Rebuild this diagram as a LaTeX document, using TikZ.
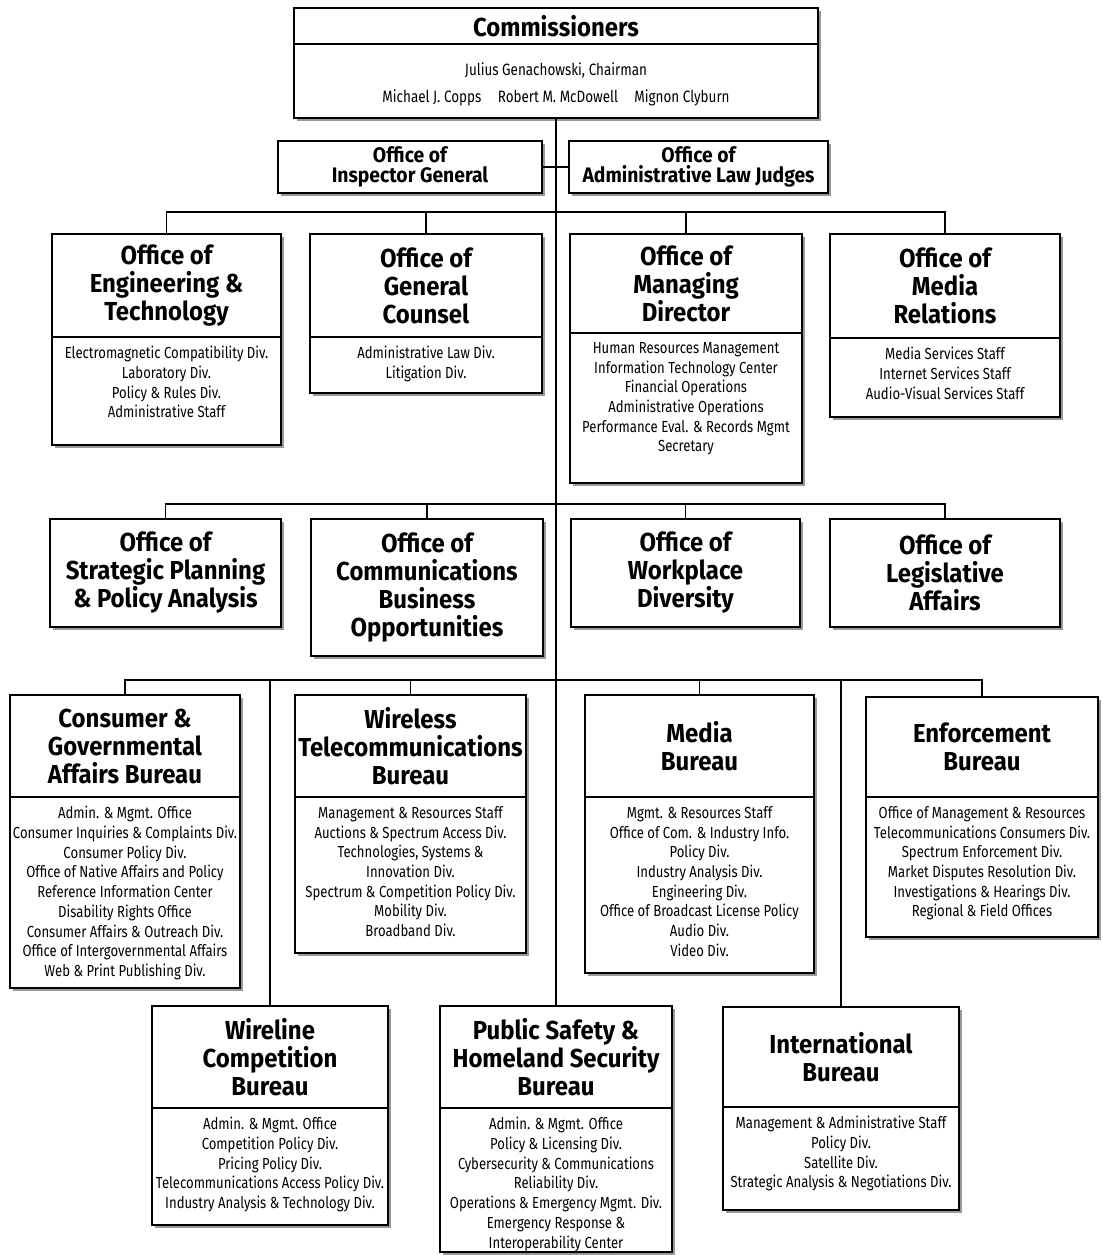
\documentclass[tikz,border=0pt]{standalone}
\usepackage{fontspec}
\setmainfont{Fira Sans}[FakeStretch=0.82]
\newfontfamily\ttlfont{Fira Sans}[FakeStretch=0.92]
\usetikzlibrary{shadows}

\begin{document}
\begin{tikzpicture}[x=0.5pt,y=-0.5pt,
  box/.style={draw,line width=1pt,fill=white,inner sep=0pt,
    drop shadow={shadow xshift=1.6pt,shadow yshift=-1.6pt,fill=black!40,opacity=1}},
  ttl/.style={font=\ttlfont\fontsize{13}{14}\selectfont\bfseries,align=center,inner sep=0pt},
  smallttl/.style={font=\ttlfont\fontsize{10.5}{10}\selectfont\bfseries,align=center,inner sep=0pt},
  itm/.style={font=\fontsize{8}{9.85}\selectfont,align=center,inner sep=0pt,anchor=north},
  divline/.style={line width=0.8pt},
  link/.style={line width=0.75pt}]
  \useasboundingbox (0,0) rectangle (1103,1255);
  % ---------------- commissioners ----------------
  \node[box,minimum width=262pt,minimum height=55pt] (comm) at (556,63) {};
  \draw[divline] (294,44) -- (818,44);
  \node[ttl] (commttl) at (556,26) {Commissioners};
  \node[itm,anchor=center,font=\fontsize{8.2}{13.5}\selectfont] (commnames) at (556,84)
    {Julius Genachowski, Chairman\\Michael J. Copps\quad Robert M. McDowell\quad Mignon Clyburn};
  \node[box,smallttl,minimum width=132pt,minimum height=26pt] (ig) at (410,167) {Office of\\Inspector General};
  \node[box,smallttl,minimum width=129.5pt,minimum height=26pt] (alj) at (698.5,167) {Office of\\Administrative Law Judges};
  % ---------------- offices and bureaus with divisions ----------------
  \foreach \nm/\xa/\ya/\xb/\yb/\yd/\ttl/\itm in {
    oet/52/234/281/445/337/{Office of\\Engineering \&\\Technology}/{Electromagnetic Compatibility Div.\\Laboratory Div.\\Policy \& Rules Div.\\Administrative Staff},
    ogc/310/234/542/393/337/{Office of\\General\\Counsel}/{Administrative Law Div.\\Litigation Div.},
    omd/570/234/802/483/333/{Office of\\Managing\\Director}/{Human Resources Management\\Information Technology Center\\Financial Operations\\Administrative Operations\\Performance Eval. \& Records Mgmt\\Secretary},
    omr/830/234/1060/417/338/{Office of\\Media\\Relations}/{Media Services Staff\\Internet Services Staff\\Audio-Visual Services Staff},
    cgb/10/695/240/988/797/{Consumer \&\\Governmental\\Affairs Bureau}/{Admin. \& Mgmt. Office\\Consumer Inquiries \& Complaints Div.\\Consumer Policy Div.\\Office of Native Affairs and Policy\\Reference Information Center\\Disability Rights Office\\Consumer Affairs \& Outreach Div.\\Office of Intergovernmental Affairs\\Web \& Print Publishing Div.},
    wtb/295/695/526/953/797/{Wireless\\Telecommunications\\Bureau}/{Management \& Resources Staff\\Auctions \& Spectrum Access Div.\\Technologies, Systems \&\\Innovation Div.\\Spectrum \& Competition Policy Div.\\Mobility Div.\\Broadband Div.},
    mb/585/695/814/973/797/{Media\\Bureau}/{Mgmt. \& Resources Staff\\Office of Com. \& Industry Info.\\Policy Div.\\Industry Analysis Div.\\Engineering Div.\\Office of Broadcast License Policy\\Audio Div.\\Video Div.},
    eb/866/697/1098/937/797/{Enforcement\\Bureau}/{Office of Management \& Resources\\Telecommunications Consumers Div.\\Spectrum Enforcement Div.\\Market Disputes Resolution Div.\\Investigations \& Hearings Div.\\Regional \& Field Offices},
    wcb/152/1006/388/1225/1108/{Wireline\\Competition\\Bureau}/{Admin. \& Mgmt. Office\\Competition Policy Div.\\Pricing Policy Div.\\Telecommunications Access Policy Div.\\Industry Analysis \& Technology Div.},
    pshs/440/1006/672/1252/1108/{Public Safety \&\\Homeland Security\\Bureau}/{Admin. \& Mgmt. Office\\Policy \& Licensing Div.\\Cybersecurity \& Communications\\Reliability Div.\\Operations \& Emergency Mgmt. Div.\\Emergency Response \&\\Interoperability Center},
    ib/723/1007/959/1210/1107/{International\\Bureau}/{Management \& Administrative Staff\\Policy Div.\\Satellite Div.\\Strategic Analysis \& Negotiations Div.}}{
    \pgfmathsetmacro\bw{(\xb-\xa)/2}
    \pgfmathsetmacro\bh{(\yb-\ya)/2}
    \node[box,minimum width=\bw pt,minimum height=\bh pt] (\nm) at ({(\xa+\xb)/2},{(\ya+\yb)/2}) {};
    \draw[divline] (\xa,\yd) -- (\xb,\yd);
    \node[ttl] (\nm-t) at ({(\xa+\xb)/2},{(\ya+\yd)/2}) {\ttl};
    \node[itm] (\nm-i) at ({(\xa+\xb)/2},{\yd+9}) {\itm};
  }
  % ---------------- offices without divisions ----------------
  \foreach \nm/\xa/\ya/\xb/\yb/\ttl in {
    osp/50/519/281/627/{Office of\\Strategic Planning\\\& Policy Analysis},
    ocbo/311/519/543/656/{Office of\\Communications\\Business\\Opportunities},
    owd/571/519/800/627/{Office of\\Workplace\\Diversity},
    ola/830/519/1060/627/{Office of\\Legislative\\Affairs}}{
    \pgfmathsetmacro\bw{(\xb-\xa)/2}
    \pgfmathsetmacro\bh{(\yb-\ya)/2}
    \node[box,ttl,minimum width=\bw pt,minimum height=\bh pt] (\nm) at ({(\xa+\xb)/2},{(\ya+\yb)/2}) {\ttl};
  }
  % ---------------- connectors ----------------
  \coordinate (b1) at (556,212);
  \coordinate (b2) at (556,504);
  \coordinate (b3) at (556,680);
  \draw[link] (comm.south) -- (pshs.north);
  \draw[link] (ig.east) -- (alj.west);
  \draw[link] (oet.north) |- (b1) -| (omr.north);
  \foreach \nm in {ogc,omd} \draw[link] (\nm.north) -- (\nm.north |- b1);
  \draw[link] (osp.north) |- (b2) -| (ola.north);
  \foreach \nm in {ocbo,owd} \draw[link] (\nm.north) -- (\nm.north |- b2);
  \draw[link] (cgb.north) |- (b3) -| (eb.north);
  \foreach \nm in {wtb,mb,wcb,ib} \draw[link] (\nm.north) -- (\nm.north |- b3);
\end{tikzpicture}
\end{document}
